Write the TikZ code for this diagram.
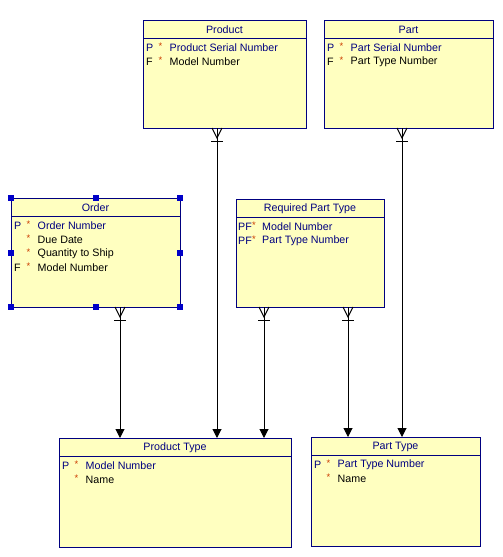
\documentclass[tikz,border=0pt]{standalone}
\usepackage{fontspec}
\setmainfont{Liberation Sans}
\usetikzlibrary{arrows.meta,calc}
\definecolor{navy}{RGB}{0,0,128}
\definecolor{boxfill}{RGB}{255,255,192}
\definecolor{starc}{RGB}{204,60,0}
\definecolor{handle}{RGB}{0,0,200}
\newcommand\fs{\fontsize{10.7}{12}\selectfont}
\tikzset{
  ent/.style={draw=navy, fill=boxfill, line width=1pt, anchor=north west, inner sep=0pt, outer sep=0pt},
  hline/.style={draw=navy, line width=1pt},
  ttl/.style={text=navy, font=\fs, inner sep=0pt, anchor=center},
  col/.style={font=\fs, inner sep=0pt, anchor=west},
  ast/.style={font=\fontsize{9.5}{10}\selectfont, text=starc, inner sep=0pt, anchor=west},
  conn/.style={draw=black, line width=1pt, -{Triangle[width=9pt,length=9pt]}},
  foot/.style={draw=black, line width=1pt},
  hdl/.style={fill=handle, draw=none, minimum size=6pt, inner sep=0pt, outer sep=0pt},
}
% entity: name, x, y, width, height, title
\newcommand\mkent[6]{%
  \node[ent, minimum width=#4pt, minimum height=#5pt] (#1) at (#2,#3) {};
  \draw[hline] ($(#1.north west)+(0,18)$) -- ($(#1.north east)+(0,18)$);
  \node[ttl] (#1-t) at ($(#1.north)+(0,10)$) {#6};
}
% row: entity, row index name, y offset, key text, colour, attribute
\newcommand\mkrow[6]{%
  \node[col, text=#5] (#1-#2k) at ($(#1.north west)+(3,#3)$) {#4};
  \node[ast] (#1-#2s) at ($(#1.north west)+(15.5,#3-1.5)$) {*};
  \node[col, text=#5] (#1-#2a) at ($(#1.north west)+(26.5,#3)$) {#6};
}
\newcommand\crowfoot[1]{%
  \draw[foot] ($(#1)+(-5,0)$) -- ($(#1)+(0,10)$) -- ($(#1)+(5,0)$);
  \draw[foot] ($(#1)+(-6,13)$) -- ($(#1)+(6,13)$);
}
\begin{document}
\begin{tikzpicture}[x=1pt,y=-1pt]
\useasboundingbox (0,0) rectangle (503,557);

\mkent{product}{143}{20}{163}{108}{Product}
\mkrow{product}{r1}{28}{P}{navy}{Product Serial Number}
\mkrow{product}{r2}{42}{F}{black}{Model Number}

\mkent{part}{324}{20}{169}{108}{Part}
\mkrow{part}{r1}{28}{P}{navy}{Part Serial Number}
\mkrow{part}{r2}{42}{F}{black}{Part Type Number}

\mkent{order}{11}{198}{169}{109}{Order}
\mkrow{order}{r1}{28}{P}{navy}{Order Number}
\mkrow{order}{r2}{42}{}{black}{Due Date}
\mkrow{order}{r3}{56}{}{black}{Quantity to Ship}
\mkrow{order}{r4}{70}{F}{black}{Model Number}

\mkent{rpt}{236}{199}{148}{108}{Required Part Type}
\node[col, text=navy] (rpt-r1k) at ($(rpt.north west)+(2,28)$) {PF};
\node[ast] (rpt-r1s) at ($(rpt.north west)+(16,26.5)$) {*};
\node[col, text=navy] (rpt-r1a) at ($(rpt.north west)+(26,28)$) {Model Number};
\node[col, text=navy] (rpt-r2k) at ($(rpt.north west)+(2,42)$) {PF};
\node[ast] (rpt-r2s) at ($(rpt.north west)+(16,40.5)$) {*};
\node[col, text=navy] (rpt-r2a) at ($(rpt.north west)+(26,42)$) {Part Type Number};

\mkent{ptype}{59}{438}{232}{109}{Product Type}
\mkrow{ptype}{r1}{28}{P}{navy}{Model Number}
\mkrow{ptype}{r2}{42}{}{black}{Name}

\mkent{parttype}{311}{437}{169}{109}{Part Type}
\mkrow{parttype}{r1}{28}{P}{navy}{Part Type Number}
\mkrow{parttype}{r2}{42}{}{black}{Name}

% selection handles on Order
\foreach \p [count=\i] in {north west,north,north east,west,east,south west,south,south east}
  \node[hdl] (h\i) at (order.\p) {};

% connector end points
\coordinate (o1) at (order.south -| 120,0);
\coordinate (o2) at (ptype.north -| 120,0);
\coordinate (p1) at (product.south -| 217,0);
\coordinate (p2) at (ptype.north -| 217,0);
\coordinate (q1) at (rpt.south -| 264,0);
\coordinate (q2) at (ptype.north -| 264,0);
\coordinate (q3) at (rpt.south -| 348,0);
\coordinate (q4) at (parttype.north -| 348,0);
\coordinate (s1) at (part.south -| 402,0);
\coordinate (s2) at (parttype.north -| 402,0);

\draw[conn] (o1) -- (o2);
\draw[conn] (p1) -- (p2);
\draw[conn] (q1) -- (q2);
\draw[conn] (q3) -- (q4);
\draw[conn] (s1) -- (s2);
\crowfoot{o1}
\crowfoot{p1}
\crowfoot{q1}
\crowfoot{q3}
\crowfoot{s1}
\end{tikzpicture}
\end{document}
